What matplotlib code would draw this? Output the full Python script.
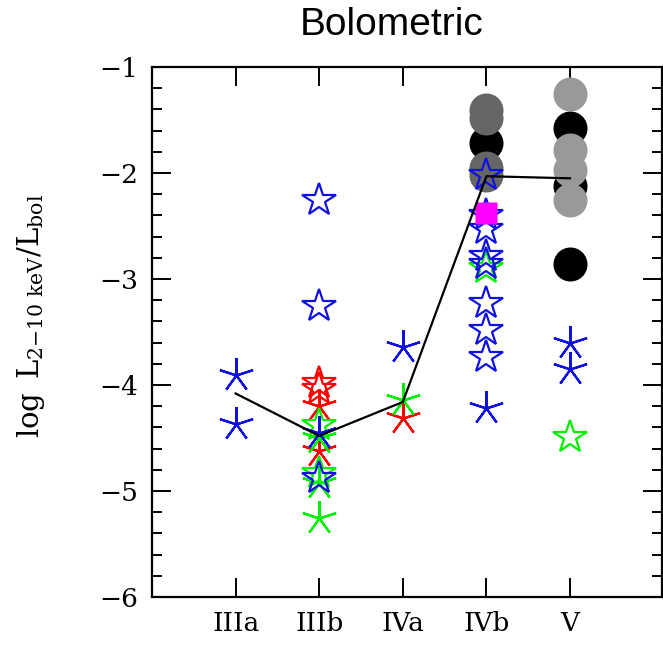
import matplotlib
matplotlib.use("Agg")
import matplotlib.pyplot as plt
from matplotlib.ticker import MultipleLocator

# --- data ---
classes = ["IIIa", "IIIb", "IVa", "IVb", "V"]

blue_star_x = [2, 2, 2, 4, 4, 4, 4, 4, 4, 4, 4]
blue_star_y = [-2.25, -3.25, -4.88, -2.02, -2.40, -2.53, -2.78, -2.86, -3.23, -3.48, -3.74]

blue_ast_x = [1, 1, 2, 3, 4, 5, 5]
blue_ast_y = [-3.91, -4.37, -4.45, -3.64, -4.22, -3.60, -3.85]

red_star_x = [2, 2]
red_star_y = [-3.98, -4.04]

red_ast_x = [2, 2, 3]
red_ast_y = [-4.20, -4.62, -4.31]

green_star_x = [2, 2, 4, 5]
green_star_y = [-4.38, -4.83, -2.90, -4.49]

green_ast_x = [2, 2, 2, 3]
green_ast_y = [-4.50, -4.92, -5.25, -4.14]

black_circ_x = [4, 5, 5, 5]
black_circ_y = [-1.72, -1.58, -2.12, -2.86]

dgray_circ_x = [4, 4, 4, 4]
dgray_circ_y = [-1.41, -1.48, -1.95, -2.02]

lgray_circ_x = [5, 5, 5, 5]
lgray_circ_y = [-1.25, -1.78, -1.97, -2.25]

magenta_x = [4]
magenta_y = [-2.38]

median_x = [1, 2, 3, 4, 5]
median_y = [-4.08, -4.48, -4.16, -2.03, -2.05]

# --- figure ---
plt.rcParams['mathtext.fontset'] = 'dejavuserif'
fig = plt.figure(figsize=(6.63, 6.45), dpi=100)
ax = fig.add_axes([0.2293, 0.0744, 0.7692, 0.8217])

circ_ms = 24.5
star_ms = 25
ast = (5, 2, 0)

ax.plot(black_circ_x, black_circ_y, 'o', ms=circ_ms, color='black', mec='none', zorder=2)
ax.plot(dgray_circ_x, dgray_circ_y, 'o', ms=circ_ms, color='#666666', mec='none', zorder=3)
ax.plot(lgray_circ_x, lgray_circ_y, 'o', ms=circ_ms, color='#999999', mec='none', zorder=3)

blue, red, green = '#1010e0', '#ff0000', '#00ee00'
for xs, ys, mk, c in [(red_star_x, red_star_y, '*', red),
                      (red_ast_x, red_ast_y, ast, red),
                      (green_star_x, green_star_y, '*', green),
                      (green_ast_x, green_ast_y, ast, green),
                      (blue_star_x, blue_star_y, '*', blue),
                      (blue_ast_x, blue_ast_y, ast, blue)]:
    ax.plot(xs, ys, linestyle='none', marker=mk, ms=star_ms, mfc='none',
            mec=c, mew=1.6, zorder=4)

ax.plot(magenta_x, magenta_y, 's', ms=16.5, color='#ff00ff', mec='none', zorder=5)
ax.plot(median_x, median_y, color='black', lw=1.6, zorder=6)

ax.set_xlim(0, 6.1)
ax.set_ylim(-6, -1)
ax.set_xticks(range(1, 6))
ax.set_xticklabels(classes)
ax.yaxis.set_minor_locator(MultipleLocator(0.2))
ax.set_yticks([-6, -5, -4, -3, -2, -1])
ax.set_yticklabels(['\u22126', '\u22125', '\u22124', '\u22123', '\u22122', '\u22121'])

ax.tick_params(which='both', direction='in', top=True, right=True, width=1.4,
               labelsize=19, pad=10, color='black')
ax.tick_params(which='major', length=14)
ax.tick_params(which='minor', length=7)
for lab in ax.get_xticklabels() + ax.get_yticklabels():
    lab.set_family('DejaVu Serif')
for sp in ax.spines.values():
    sp.set_linewidth(1.6)

ax.set_ylabel(r'$\log\ \mathrm{L}_{2\mathrm{-}10\ \mathrm{keV}}/\mathrm{L}_{\mathrm{bol}}$',
              fontsize=21)
ax.yaxis.set_label_coords(-0.205, 0.53)

fig.text(0.591, 0.962, "Bolometric", ha='center', va='center',
         fontsize=28, family='Liberation Sans')

fig.savefig("out.png", dpi=100)
